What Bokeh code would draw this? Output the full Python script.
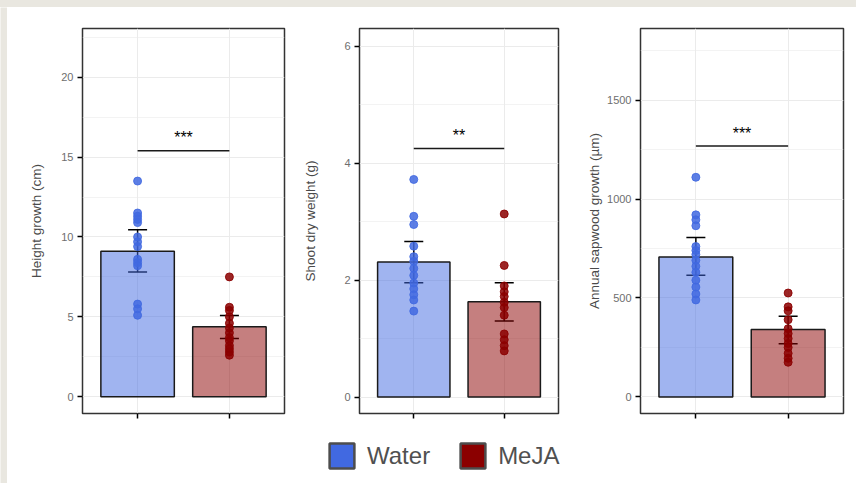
import numpy as np
from bokeh.plotting import figure
from bokeh.models import (Range1d, FixedTicker, ColumnDataSource, Whisker, TeeHead,
                          Legend, LegendItem, Spacer)
from bokeh.layouts import row, column
from bokeh.core.properties import value
from bokeh.embed import file_html
from bokeh.resources import INLINE

# ---------------- data ----------------
categories = ["Water", "MeJA"]

height_water = [13.5, 11.5, 11.3, 11.1, 10.9, 10.0, 9.7, 9.4, 8.6, 8.4, 8.2, 5.8, 5.5, 5.1]
height_meja = [7.5, 5.6, 5.4, 5.0, 4.6, 4.3, 4.0, 3.7, 3.5, 3.2, 3.0, 2.8, 2.6]
height_mean = [9.1, 4.38]
height_lo = [7.8, 3.65]
height_hi = [10.45, 5.08]

shoot_water = [3.72, 3.09, 2.95, 2.58, 2.40, 2.32, 2.20, 2.08, 1.95, 1.85, 1.75, 1.66, 1.47]
shoot_meja = [3.13, 2.25, 1.90, 1.80, 1.72, 1.62, 1.53, 1.40, 1.08, 0.98, 0.88, 0.79]
shoot_mean = [2.31, 1.63]
shoot_lo = [1.955, 1.30]
shoot_hi = [2.66, 1.955]

sap_water = [1110, 920, 895, 865, 760, 740, 720, 690, 660, 630, 590, 555, 520, 490]
sap_meja = [525, 455, 435, 390, 345, 320, 295, 270, 250, 220, 195, 175]
sap_mean = [707, 340]
sap_lo = [615, 268]
sap_hi = [805, 408]

sig_labels = ["***", "**", "***"]
sig_y = [15.4, 4.25, 1268]

height_ticks = [0, 5, 10, 15, 20]
shoot_ticks = [0, 2, 4, 6]
sap_ticks = [0, 500, 1000, 1500]

# ---------------- style ----------------
BEIGE = "#e9e7e0"
BLUE = "#4169E1"
RED = "#8B0000"
FONT = "Liberation Sans"
colors = [BLUE, RED]
xpos = list(range(1, len(categories) + 1))


def make_panel(ylabel, water, meja, means, lo, hi, ticks, yr, sig_label, sig_val,
               width, ml, mr, label_standoff):
    step = ticks[1] - ticks[0]
    minor = [t + step / 2 for t in ticks] + [ticks[0] - step / 2]
    p = figure(width=width, height=426, x_range=Range1d(0.4, 2.6), y_range=Range1d(*yr),
               output_backend="svg", toolbar_location=None,
               min_border_left=ml, min_border_right=mr, min_border_top=21, min_border_bottom=20)
    p.outline_line_color = "#333333"
    p.outline_line_width = 1.5
    p.background_fill_color = "white"
    p.border_fill_color = "white"

    xa = p.xaxis[0]
    xa.ticker = FixedTicker(ticks=xpos)
    xa.major_label_overrides = {x: "" for x in xpos}
    xa.major_tick_out = 5
    xa.major_tick_in = 0
    xa.major_tick_line_width = 1.5
    xa.major_tick_line_color = "black"
    xa.minor_tick_line_color = None
    xa.axis_line_color = None
    xa.major_label_standoff = 0

    ya = p.yaxis[0]
    ya.ticker = FixedTicker(ticks=ticks, minor_ticks=minor)
    ya.major_tick_out = 5
    ya.major_tick_in = 0
    ya.major_tick_line_width = 1.5
    ya.major_tick_line_color = "black"
    ya.minor_tick_line_color = None
    ya.axis_line_color = None
    ya.major_label_standoff = 4
    ya.major_label_text_font = FONT
    ya.major_label_text_font_size = "11px"
    ya.major_label_text_color = "#6e6e6e"
    ya.axis_label = ylabel
    ya.axis_label_text_font = FONT
    ya.axis_label_text_font_size = "13.5px"
    ya.axis_label_text_font_style = "normal"
    ya.axis_label_text_color = "#4a4a4a"
    ya.axis_label_standoff = label_standoff

    p.xgrid.grid_line_color = "#ebebeb"
    p.ygrid.grid_line_color = "#ebebeb"
    p.ygrid.minor_grid_line_color = "#ebebeb"
    p.ygrid.minor_grid_line_width = 0.6

    p.vbar(x=xpos, top=means, width=0.8, fill_color=colors, fill_alpha=0.5,
           line_color="#1a1a1a", line_width=1.5)
    p.scatter(x=np.full(len(water), xpos[0]), y=water, size=8, color=BLUE, alpha=0.85)
    p.scatter(x=np.full(len(meja), xpos[1]), y=meja, size=8, color=RED, alpha=0.85)

    src = ColumnDataSource(dict(x=xpos, lo=lo, hi=hi))
    p.add_layout(Whisker(source=src, base="x", lower="lo", upper="hi", dimension="height",
                         line_color="black", line_width=1.5,
                         upper_head=TeeHead(size=19, line_width=1.5, line_color="black"),
                         lower_head=TeeHead(size=19, line_width=1.5, line_color="black")))

    p.segment(x0=[xpos[0]], y0=[sig_val], x1=[xpos[1]], y1=[sig_val],
              line_color="#1a1a1a", line_width=1.5)
    p.text(x=[(xpos[0] + xpos[1]) / 2], y=[sig_val], text=[sig_label], text_align="center",
           text_baseline="alphabetic", y_offset=-13, text_font=value(FONT),
           text_font_size="16px", text_color="black")
    return p


p1 = make_panel("Height growth (cm)", height_water, height_meja, height_mean, height_lo,
                height_hi, height_ticks, (-1.05, 23.05), sig_labels[0], sig_y[0],
                293, 75, 16, 14)
p2 = make_panel("Shoot dry weight (g)", shoot_water, shoot_meja, shoot_mean, shoot_lo,
                shoot_hi, shoot_ticks, (-0.28, 6.30), sig_labels[1], sig_y[1],
                275, 56, 17, 23)
p3 = make_panel("Annual sapwood growth (µm)", sap_water, sap_meja, sap_mean, sap_lo,
                sap_hi, sap_ticks, (-84, 1862), sig_labels[2], sig_y[2],
                281, 65, 13, 2)

# legend figure
lf = figure(width=849, height=50, x_range=Range1d(0, 1), y_range=Range1d(0, 1),
            output_backend="svg", toolbar_location=None, min_border=0,
            x_axis_type=None, y_axis_type=None)
lf.outline_line_color = None
lf.xgrid.visible = False
lf.ygrid.visible = False
lf.background_fill_color = "white"
lf.border_fill_color = "white"
items = []
for cat, col in zip(categories, colors):
    r = lf.vbar(x=[0.5], top=[0.5], width=0.1, fill_color=col, line_color="#4d4d4d",
                line_width=2.5, visible=False)
    items.append(LegendItem(label=cat, renderers=[r]))
leg = Legend(items=items, location=(319, 12), orientation="horizontal",
             glyph_width=31, glyph_height=31, label_standoff=10, spacing=27,
             padding=0, margin=0, border_line_color=None, background_fill_alpha=0,
             label_text_font=FONT, label_text_font_size="24px", label_text_color="#505050")
lf.add_layout(leg)

# beige strips (left one as a figure, top one as a styled spacer)
top = Spacer(width=856, height=7, styles={"background-color": BEIGE})
left = figure(width=7, height=476, output_backend="svg", toolbar_location=None, min_border=0,
              x_axis_type=None, y_axis_type=None)
left.outline_line_color = None
left.background_fill_color = BEIGE
left.border_fill_color = BEIGE
left.grid.visible = False

layout = column(top, row(left, column(row(p1, p2, p3), lf)))

open("out.html", "w").write(file_html(layout, INLINE))
